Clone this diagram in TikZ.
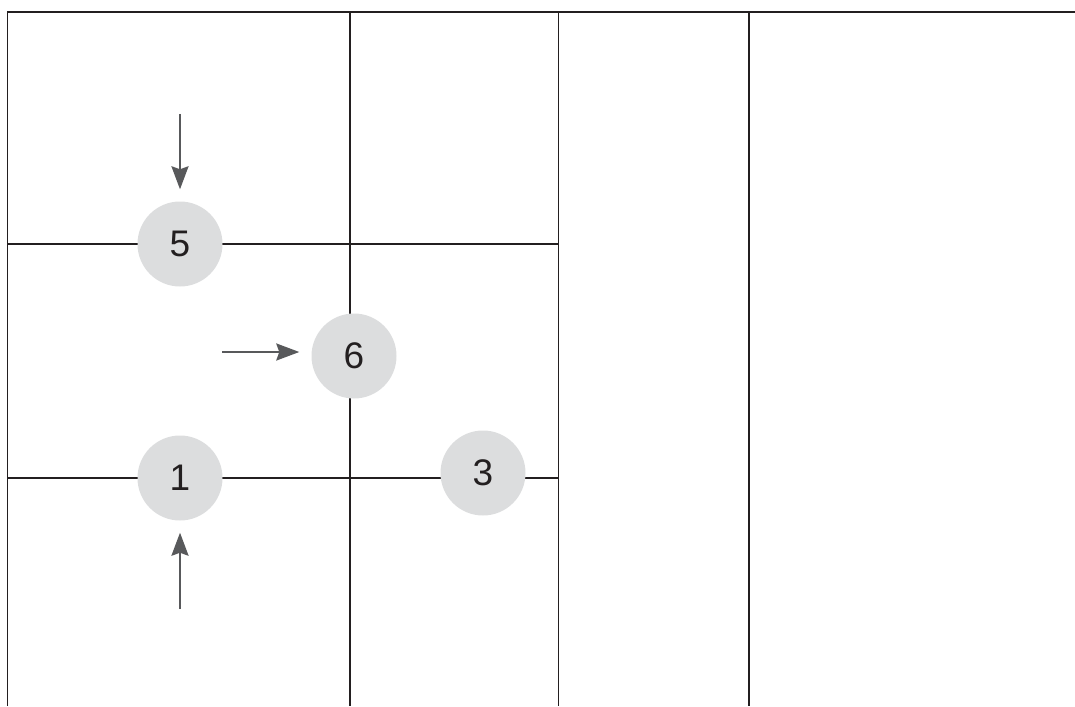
\documentclass[tikz,border=0pt]{standalone}
\usepackage{fontspec}
\setmainfont{Liberation Sans}
\usetikzlibrary{arrows.meta}
\definecolor{linec}{HTML}{231F20}
\definecolor{arrc}{HTML}{58595B}
\definecolor{circc}{HTML}{DCDDDE}
\begin{document}
\begin{tikzpicture}[x=1pt,y=-1pt,
  gridline/.style={draw=linec, line width=1.6pt},
  numdot/.style={circle, fill=circc, minimum size=85pt, inner sep=0pt, text=linec, font=\fontsize{37}{42}\selectfont},
  arr/.style={draw=arrc, line width=2.4pt, -{Stealth[length=23pt,width=17pt,inset=3pt]}, shorten >=12pt}]
\useasboundingbox (0,0) rectangle (1075,706);
% grid
\draw[gridline] (7.5,706) -- (7.5,12) -- (1075,12);
\draw[gridline] (350,12) -- (350,706);
\draw[gridline] (558.5,12) -- (558.5,706);
\draw[gridline] (749,12) -- (749,706);
\draw[gridline] (7.5,244) -- (558.5,244);
\draw[gridline] (7.5,478) -- (558.5,478);
% numbered dots
\node[numdot] (n5) at (180,244) {5};
\node[numdot] (n6) at (354,356) {6};
\node[numdot] (n1) at (180,478) {1};
\node[numdot] (n3) at (483,473) {3};
% arrows
\coordinate (a5) at (180,114);
\coordinate (a6) at (222,352);
\coordinate (a1) at (180,609);
\draw[arr] (a5) -- (a5 |- n5.north);
\draw[arr] (a6) -- (a6 -| n6.west);
\draw[arr] (a1) -- (a1 |- n1.south);
\end{tikzpicture}
\end{document}
